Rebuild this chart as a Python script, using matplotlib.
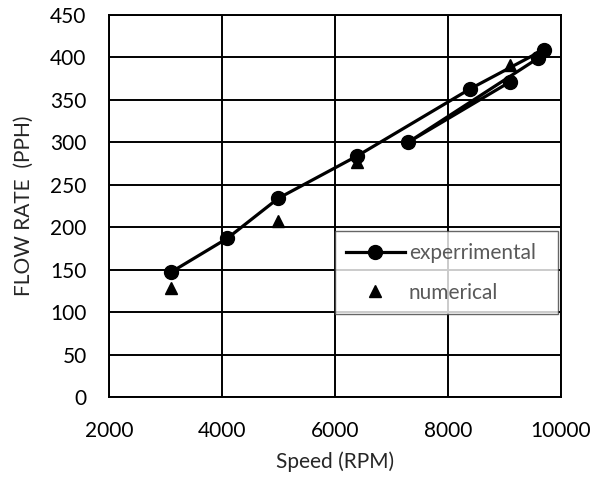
import matplotlib
matplotlib.use("Agg")
import matplotlib.pyplot as plt

# experimental points, in the order they are joined
exp_speed = [3100, 4100, 5000, 6400, 8400, 9700, 9600, 7300, 9100]
exp_flow = [147, 187, 234, 284, 363, 409, 399, 300, 371]

# numerical points
num_speed = [3100, 5000, 6400, 9100]
num_flow = [129, 207, 277, 391]

plt.rcParams['font.family'] = ['Lato', 'DejaVu Sans']

fig = plt.figure(figsize=(6.01, 4.79), dpi=100)
ax = fig.add_axes([0.181, 0.171, 0.752, 0.798])

ax.plot(exp_speed, exp_flow, color="black", linewidth=2.3, marker="o",
        markersize=10, label="experrimental", zorder=3)
ax.plot(num_speed, num_flow, linestyle="none", color="black", marker="^",
        markersize=9, label="numerical", zorder=4)

ax.set_xlim(2000, 10000)
ax.set_ylim(0, 450)
ax.set_xticks(range(2000, 10001, 2000))
ax.set_yticks(range(0, 451, 50))
ax.grid(True, color="black", linewidth=1.4)
ax.set_axisbelow(True)
for s in ax.spines.values():
    s.set_color("black")
    s.set_linewidth(1.4)
ax.tick_params(axis="x", length=0, labelsize=15, pad=17, colors="black")
ax.tick_params(axis="y", length=0, labelsize=15, pad=16, colors="black")

ax.set_xlabel("Speed (RPM)", fontsize=15, color="#262626", labelpad=8)
ax.set_ylabel("FLOW RATE  (PPH)", fontsize=15, color="#262626", labelpad=12)

leg = ax.legend(loc="lower left", bbox_to_anchor=(0.5, 0.217, 0.493, 0.215),
                mode="expand", fontsize=15, frameon=True, fancybox=False,
                borderpad=0.55, labelspacing=0.95, handlelength=2.8,
                handletextpad=0.2, borderaxespad=0)
leg.get_frame().set_edgecolor("#404040")
leg.get_frame().set_linewidth(1.0)
for t in leg.get_texts():
    t.set_color("#595959")

fig.savefig("out.png", dpi=100)
